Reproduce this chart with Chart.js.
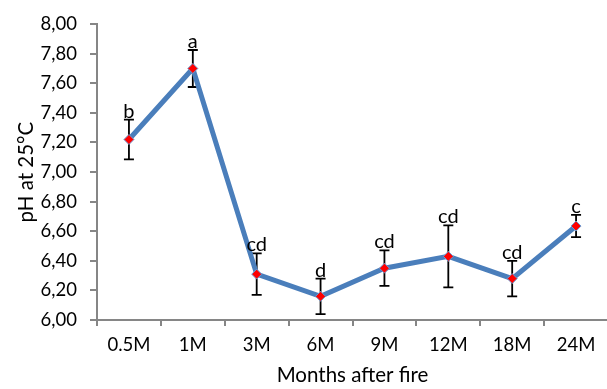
<!DOCTYPE html>
<html>
<head>
<meta charset="utf-8">
<script src="https://cdn.jsdelivr.net/npm/chart.js@4.4.1/dist/chart.umd.min.js"></script>
<style>
  html, body { margin: 0; padding: 0; background: #ffffff; overflow: hidden; }
  #wrap { position: relative; width: 614px; height: 389px; }
</style>
</head>
<body>
<div id="wrap"><canvas id="c"></canvas></div>
<script>
// Soil pH over time after the fire, with standard error and letter groups
const months = ['0.5M', '1M', '3M', '6M', '9M', '12M', '18M', '24M'];
const phValues = [7.22, 7.70, 6.31, 6.16, 6.35, 6.43, 6.28, 6.635];
const phErrors = [0.135, 0.125, 0.14, 0.12, 0.12, 0.21, 0.12, 0.075];
const groupLetters = ['b', 'a', 'cd', 'd', 'cd', 'cd', 'cd', 'c'];

const FONT = 'Lato, "Open Sans", sans-serif';
const AXIS_GREY = '#868686';

// Error bars drawn under the line, letters drawn on top above each bar
const errorBarPlugin = {
  id: 'errorBars',
  beforeDatasetsDraw(chart) {
    const { ctx, scales: { x, y } } = chart;
    ctx.save();
    ctx.strokeStyle = '#000000';
    ctx.lineWidth = 1.8;
    phValues.forEach((v, i) => {
      const px = x.getPixelForValue(i);
      const top = y.getPixelForValue(v + phErrors[i]);
      const bot = y.getPixelForValue(v - phErrors[i]);
      ctx.beginPath();
      ctx.moveTo(px, top); ctx.lineTo(px, bot);
      ctx.moveTo(px - 5, top); ctx.lineTo(px + 5, top);
      ctx.moveTo(px - 5, bot); ctx.lineTo(px + 5, bot);
      ctx.stroke();
    });
    ctx.restore();
  },
  afterDatasetsDraw(chart) {
    const { ctx, scales: { x, y } } = chart;
    ctx.save();
    ctx.fillStyle = '#000000';
    ctx.font = '20px ' + FONT;
    ctx.textAlign = 'center';
    ctx.textBaseline = 'alphabetic';
    groupLetters.forEach((t, i) => {
      const px = x.getPixelForValue(i);
      const top = y.getPixelForValue(phValues[i] + phErrors[i]);
      ctx.fillText(t, px, top - 2);
    });
    ctx.restore();
  }
};

new Chart(document.getElementById('c'), {
  type: 'line',
  data: {
    labels: months,
    datasets: [{
      data: phValues,
      borderColor: '#4a7ebb',
      borderWidth: 5,
      tension: 0,
      pointStyle: 'rectRot',
      pointRadius: 5,
      pointBackgroundColor: '#ff0000',
      pointBorderColor: '#6f9bd1',
      pointBorderWidth: 1
    }]
  },
  options: {
    responsive: true,
    maintainAspectRatio: false,
    animation: false,
    layout: { padding: { top: 20, left: 0, right: 0, bottom: 0 } },
    plugins: { legend: { display: false }, tooltip: { enabled: false } },
    scales: {
      x: {
        type: 'category',
        offset: true,
        afterFit(s) { s.height = 69; },
        grid: { display: true, offset: true, drawOnChartArea: false, drawTicks: true, tickLength: 6, color: AXIS_GREY, lineWidth: 2 },
        border: { display: true, color: AXIS_GREY, width: 2 },
        ticks: { color: '#000000', font: { family: FONT, size: 18.5 }, padding: 8, maxRotation: 0, autoSkip: false },
        title: { display: true, text: 'Months after fire', color: '#000000', font: { family: FONT, size: 20.5 }, padding: { top: 0, bottom: 1 } }
      },
      y: {
        min: 6,
        max: 8,
        afterFit(s) { s.width = 97; },
        grid: { display: true, drawOnChartArea: false, drawTicks: true, tickLength: 7, color: AXIS_GREY, lineWidth: 2 },
        border: { display: true, color: AXIS_GREY, width: 2 },
        ticks: {
          stepSize: 0.2,
          color: '#000000',
          font: { family: FONT, size: 18.5 },
          padding: 13,
          callback: (v) => Number(v).toFixed(2).replace('.', ',')
        },
        title: { display: true, text: 'pH at 25°C', color: '#000000', font: { family: FONT, size: 20.5 }, padding: { top: 14, bottom: 0 } }
      }
    }
  },
  plugins: [errorBarPlugin]
});
</script>
</body>
</html>
